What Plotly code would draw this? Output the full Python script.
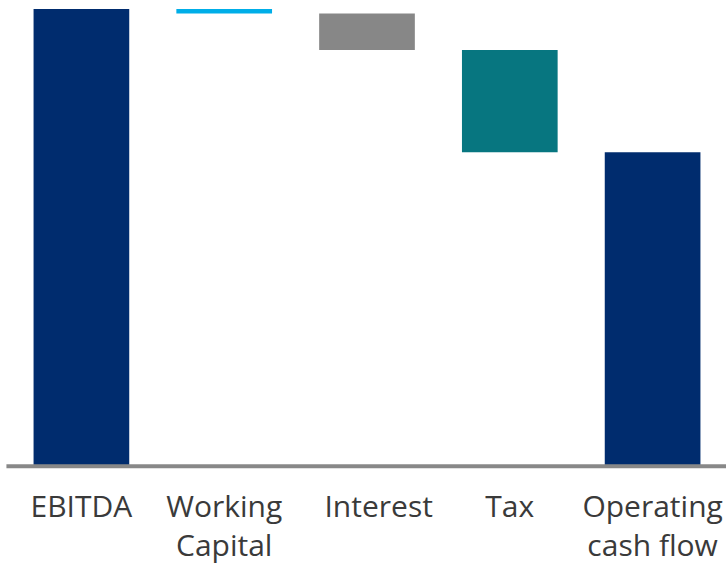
import plotly.graph_objects as go

# Operating cash flow bridge
categories = ["EBITDA", "Working<br>Capital", "\u00a0\u00a0\u00a0Interest", "Tax", "Operating<br>cash flow"]
measures = ["absolute", "relative", "relative", "relative", "total"]
values = [100.0, -1.0, -8.0, -22.4, None]
colors = ["#002c6e", "#00aee8", "#878787", "#077680", "#002c6e"]

# Build floating bar bases/heights from the running total
bases, heights = [], []
running = 0.0
for m, v in zip(measures, values):
    if m == "absolute":
        running = v
        bases.append(0.0)
        heights.append(v)
    elif m == "relative":
        bases.append(running + v)
        heights.append(-v)
        running += v
    else:
        bases.append(0.0)
        heights.append(running)

fig = go.Figure(
    go.Bar(
        x=categories,
        y=heights,
        base=bases,
        marker=dict(color=colors, line=dict(width=0)),
        hoverinfo="skip",
    )
)

# Thick grey baseline under the bars (paper refs so it is not clipped)
fig.add_shape(
    type="line", xref="paper", yref="paper",
    x0=-0.005, x1=1.005, y0=-0.0025, y1=-0.0025,
    line=dict(color="#888888", width=4),
)

fig.update_layout(
    width=726, height=565,
    margin=dict(l=10, r=2, t=9, b=100),
    plot_bgcolor="white", paper_bgcolor="white",
    bargap=0.33,
    showlegend=False,
    font=dict(family="Open Sans", size=30, color="#3a3a3a"),
    xaxis=dict(showgrid=False, zeroline=False, showline=False, ticks="",
               automargin=False,
               tickfont=dict(size=30, color="#3a3a3a"), ticklabelstandoff=21),
    yaxis=dict(range=[0, 100], visible=False, showgrid=False, zeroline=False,
               automargin=False),
)

fig.write_html("out.html")
